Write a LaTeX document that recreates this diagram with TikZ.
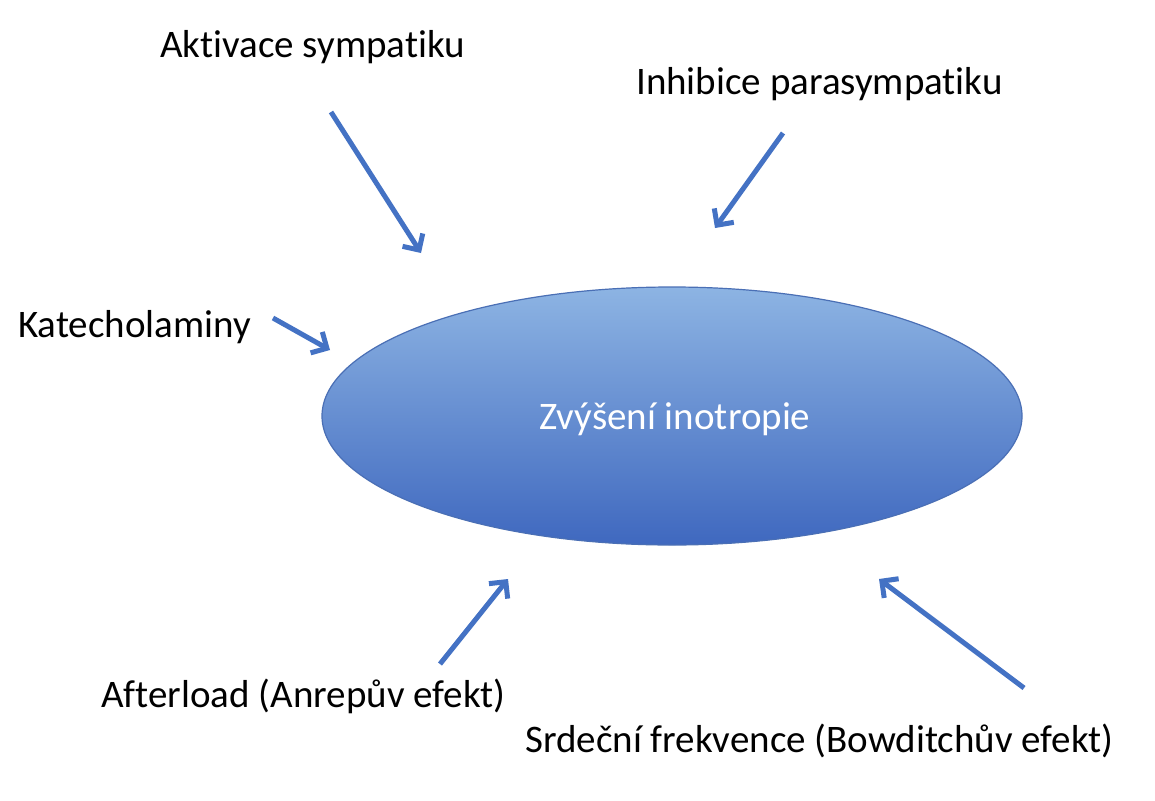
\documentclass[tikz,border=0pt]{standalone}
\usepackage{fontspec}
\setmainfont[Ligatures=NoCommon]{Carlito}
\usetikzlibrary{arrows.meta,shapes.geometric}
\definecolor{arrowblue}{HTML}{4472C4}
\definecolor{elltop}{HTML}{8DB4E3}
\definecolor{ellbot}{HTML}{3F68BF}
\definecolor{ellborder}{HTML}{4A6FB5}
\tikzset{
  lbl/.style={anchor=base west, inner sep=0pt, font=\fontsize{39}{46}\selectfont, text=black},
  arr/.style={draw=arrowblue, line width=5pt, -{Straight Barb[length=12pt,width=24pt]}},
  hub/.style={ellipse, draw=ellborder, line width=1.2pt, top color=elltop, bottom color=ellbot,
    minimum width=700pt, minimum height=258pt, inner sep=0pt, text=white,
    font=\fontsize{39}{46}\selectfont}
}
\begin{document}
\begin{tikzpicture}[x=1pt,y=-1pt]
\useasboundingbox (0,0) rectangle (1155,800);
\fill[white] (0,0) rectangle (1155,800);

\node[hub] (ell) at (672,416) {};
\node[anchor=base, inner sep=0pt, text=white, font=\fontsize{39}{46}\selectfont] (elltext) at (675,429) {Zvýšení inotropie};

\node[lbl] (akt) at (160,57) {Aktivace sympatiku};
\node[lbl] (inh) at (636,94) {Inhibice parasympatiku};
\node[lbl] (kat) at (18,337) {Katecholaminy};
\node[lbl] (aft) at (101,707) {Afterload (Anrepův efekt)};
\node[lbl] (srd) at (525,752) {Srdeční frekvence (Bowditchův efekt)};

\coordinate (a1s) at (331,112); \coordinate (a1e) at (421,253);
\coordinate (a2s) at (783,133); \coordinate (a2e) at (715,228);
\coordinate (a3s) at (273,318); \coordinate (a3e) at (330,350);
\coordinate (a4s) at (440,664); \coordinate (a4e) at (508,579);
\coordinate (a5s) at (1024,688); \coordinate (a5e) at (879,579);

\draw[arr] (a1s) -- (a1e);
\draw[arr] (a2s) -- (a2e);
\draw[arr] (a3s) -- (a3e);
\draw[arr] (a4s) -- (a4e);
\draw[arr] (a5s) -- (a5e);
\end{tikzpicture}
\end{document}
